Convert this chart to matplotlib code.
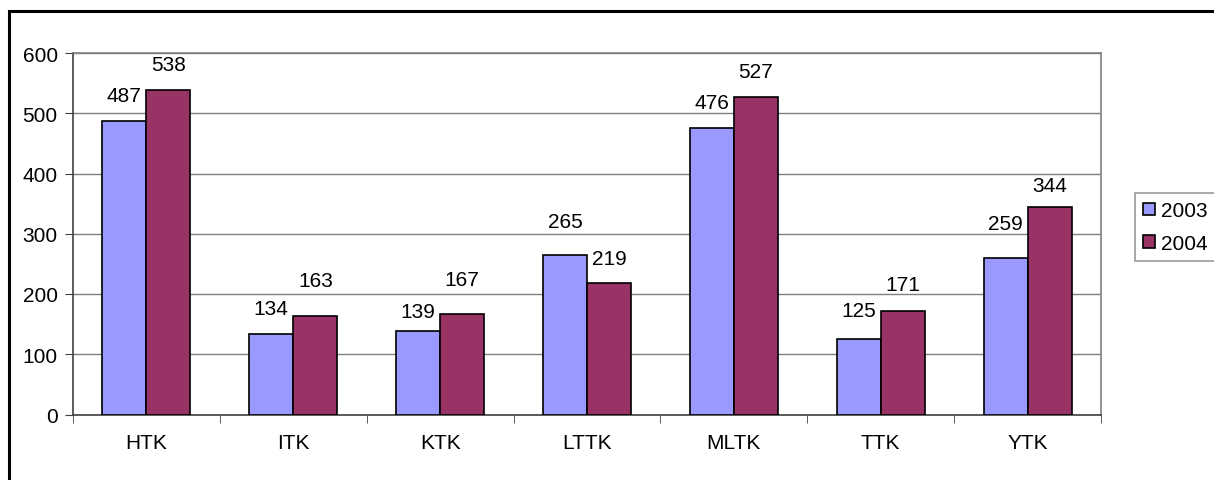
import numpy as np
import matplotlib.pyplot as plt
from matplotlib.patches import Rectangle

plt.rcParams['font.family'] = ['Liberation Sans', 'DejaVu Sans']

# Daten
categories = ['HTK', 'ITK', 'KTK', 'LTTK', 'MLTK', 'TTK', 'YTK']
years = ['2003', '2004']
v2003 = [487, 134, 139, 265, 476, 125, 259]
v2004 = [538, 163, 167, 219, 527, 171, 344]
colors = ['#9999ff', '#993366']
# Abstand der Beschriftung über dem Balken (Pixel), wie im Original
gap2003 = [20, 20, 14, 28, 20, 23, 29]
gap2004 = [20, 30, 29, 19, 20, 21, 16]

W, H = 1214, 481
fig = plt.figure(figsize=(W/100, H/100), dpi=100)

# äußerer Rahmen (nur links und oben sichtbar)
fig.patches.append(Rectangle((9/W, -0.2), 1.2, 1.2 - 12/H, transform=fig.transFigure,
                             fill=False, edgecolor='black', linewidth=2.2))

ax = fig.add_axes([73/W, 1 - 415.5/H, (1101-73)/W, (415.5-54)/H])
x = np.arange(len(categories))
bw = 0.3
b1 = ax.bar(x - bw/2, v2003, bw, color=colors[0], edgecolor='black', linewidth=1.2,
            label=years[0], zorder=3)
b2 = ax.bar(x + bw/2, v2004, bw, color=colors[1], edgecolor='black', linewidth=1.2,
            label=years[1], zorder=3)

fs = 15
for bars, vals, gaps in ((b1, v2003, gap2003), (b2, v2004, gap2004)):
    for r, v, g in zip(bars, vals, gaps):
        ax.annotate(str(v), (r.get_x() + r.get_width()/2, v),
                    xytext=(0, (g - 4) * 0.72), textcoords='offset points',
                    ha='center', va='bottom', fontsize=fs)

ax.set_xlim(-0.5, len(categories) - 0.5)
ax.set_ylim(0, 600)
ax.set_yticks(range(0, 601, 100))
ax.yaxis.grid(True, color='#808080', linewidth=1.0, zorder=0)
ax.set_xticks(x)
ax.set_xticklabels(categories, fontsize=fs)
ax.set_xticks(np.arange(-0.5, len(categories)), minor=True)
ax.tick_params(axis='x', which='major', length=0, pad=13)
ax.tick_params(axis='x', which='minor', length=6, color='#404040', direction='out')
ax.tick_params(axis='y', length=6, color='#404040', labelsize=fs, pad=5)
for s in ('top', 'right'):
    ax.spines[s].set_color('#808080')
for s in ('left', 'bottom'):
    ax.spines[s].set_color('#404040')
for s in ax.spines.values():
    s.set_linewidth(1.2)

leg = fig.legend(handles=[b1, b2], labels=years, loc='upper left',
                 bbox_to_anchor=(1135/W, 1 - 194/H), frameon=True, fancybox=False,
                 edgecolor='#808080', fontsize=fs, handlelength=0.55, handleheight=0.55,
                 handletextpad=0.3, borderpad=0.4, labelspacing=0.65, borderaxespad=0)
leg.get_frame().set_linewidth(1.2)

fig.savefig('out.png', dpi=100)
